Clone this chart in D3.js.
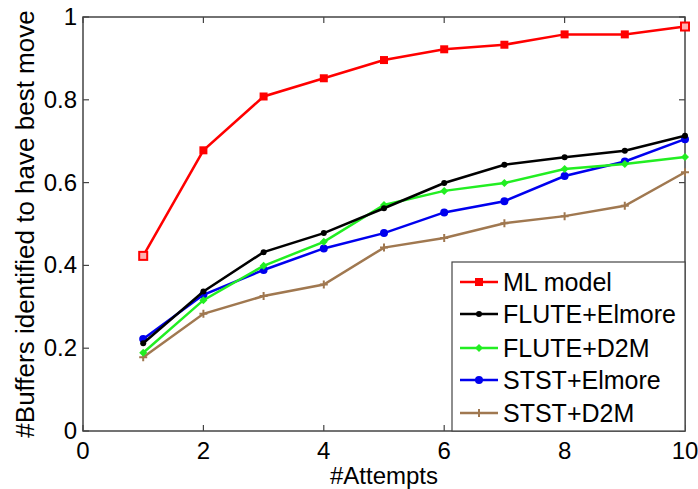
<!DOCTYPE html>
<html>
<head>
<meta charset="utf-8">
<script src="https://cdn.jsdelivr.net/npm/d3@7"></script>
<style>
  body { margin: 0; background: #fff; }
  svg { font-family: "Liberation Sans", Arial, sans-serif; }
</style>
</head>
<body>
<svg width="698" height="489"></svg>
<script>
// Data
const attempts = [1, 2, 3, 4, 5, 6, 7, 8, 9, 10];
const mlModel = [0.423, 0.678, 0.808, 0.852, 0.896, 0.922, 0.933, 0.958, 0.958, 0.977];
const fluteElmore = [0.212, 0.337, 0.432, 0.478, 0.538, 0.599, 0.643, 0.661, 0.677, 0.713];
const fluteD2M = [0.189, 0.316, 0.399, 0.457, 0.546, 0.580, 0.599, 0.633, 0.645, 0.662];
const ststElmore = [0.222, 0.329, 0.389, 0.441, 0.478, 0.528, 0.555, 0.616, 0.651, 0.705];
const ststD2M = [0.178, 0.283, 0.326, 0.354, 0.443, 0.466, 0.502, 0.519, 0.544, 0.625];
const xTicks = [0, 2, 4, 6, 8, 10];
const yTicks = [0, 0.2, 0.4, 0.6, 0.8, 1];

const seriesList = [
    {name: "ML model", values: mlModel, color: "#ff0000", marker: "square"},
    {name: "FLUTE+Elmore", values: fluteElmore, color: "#000000", marker: "dot"},
    {name: "FLUTE+D2M", values: fluteD2M, color: "#22ee22", marker: "diamond"},
    {name: "STST+Elmore", values: ststElmore, color: "#0000ee", marker: "circle"},
    {name: "STST+D2M", values: ststD2M, color: "#a07850", marker: "plus"}
];

const svg = d3.select("svg");
const plotLeft = 83, plotRight = 685, plotTop = 17, plotBottom = 431;

const x = d3.scaleLinear().domain([0, 10]).range([plotLeft, plotRight]);
const y = d3.scaleLinear().domain([0, 1]).range([plotBottom, plotTop]);

// Axis box
svg.append("rect")
    .attr("x", plotLeft).attr("y", plotTop)
    .attr("width", plotRight - plotLeft).attr("height", plotBottom - plotTop)
    .attr("fill", "none").attr("stroke", "#444").attr("stroke-width", 1.5);

// Ticks pointing inward, on all four sides
const tickLen = 6;
xTicks.forEach(t => {
    svg.append("line").attr("x1", x(t)).attr("x2", x(t))
        .attr("y1", plotBottom).attr("y2", plotBottom - tickLen)
        .attr("stroke", "#444").attr("stroke-width", 1.2);
    svg.append("line").attr("x1", x(t)).attr("x2", x(t))
        .attr("y1", plotTop).attr("y2", plotTop + tickLen)
        .attr("stroke", "#444").attr("stroke-width", 1.2);
    svg.append("text")
        .attr("x", x(t)).attr("y", plotBottom + 28)
        .attr("text-anchor", "middle")
        .attr("font-size", "24px")
        .text(t);
});
yTicks.forEach(t => {
    svg.append("line").attr("x1", plotLeft).attr("x2", plotLeft + tickLen)
        .attr("y1", y(t)).attr("y2", y(t))
        .attr("stroke", "#444").attr("stroke-width", 1.2);
    svg.append("line").attr("x1", plotRight).attr("x2", plotRight - tickLen)
        .attr("y1", y(t)).attr("y2", y(t))
        .attr("stroke", "#444").attr("stroke-width", 1.2);
    svg.append("text")
        .attr("x", plotLeft - 6).attr("y", y(t) + 8)
        .attr("text-anchor", "end")
        .attr("font-size", "24px")
        .text(t);
});

// Axis labels
svg.append("text")
    .attr("x", 384).attr("y", 484)
    .attr("text-anchor", "middle")
    .attr("font-size", "24px")
    .text("#Attempts");

svg.append("text")
    .attr("transform", "rotate(-90)")
    .attr("x", -224).attr("y", 34)
    .attr("text-anchor", "middle")
    .attr("font-size", "26px")
    .text("#Buffers identified to have best move");

// Marker drawing
function drawMarker(g, type, cx, cy, color, hollow) {
    if (type === "square") {
        g.append("rect").attr("x", cx - 4).attr("y", cy - 4)
            .attr("width", 8).attr("height", 8)
            .attr("fill", hollow ? "#ffb0b0" : color)
            .attr("stroke", color).attr("stroke-width", hollow ? 2 : 0);
    } else if (type === "dot") {
        g.append("circle").attr("cx", cx).attr("cy", cy).attr("r", 3).attr("fill", color);
    } else if (type === "circle") {
        g.append("circle").attr("cx", cx).attr("cy", cy).attr("r", 4).attr("fill", color);
    } else if (type === "diamond") {
        g.append("path")
            .attr("d", `M${cx},${cy - 4}L${cx + 4},${cy}L${cx},${cy + 4}L${cx - 4},${cy}Z`)
            .attr("fill", color);
    } else if (type === "plus") {
        g.append("path")
            .attr("d", `M${cx - 4},${cy}H${cx + 4}M${cx},${cy - 4}V${cy + 4}`)
            .attr("stroke", color).attr("stroke-width", 2);
    }
}

const line = d3.line()
    .x((d, i) => x(attempts[i]))
    .y(d => y(d));

// Draw in reverse so the ML model ends on top
seriesList.slice().reverse().forEach(s => {
    const g = svg.append("g");
    g.append("path")
        .attr("d", line(s.values))
        .attr("fill", "none")
        .attr("stroke", s.color)
        .attr("stroke-width", 2.5);
    const last = s.values.length - 1;
    s.values.forEach((v, i) =>
        drawMarker(g, s.marker, x(attempts[i]), y(v), s.color, i === 0 || i === last));
});

// Legend
const legLeft = 452, legTop = 262;
svg.append("rect")
    .attr("x", legLeft).attr("y", legTop)
    .attr("width", plotRight - legLeft).attr("height", plotBottom - legTop)
    .attr("fill", "#fff").attr("stroke", "#444").attr("stroke-width", 1.2);

const rowY = [282, 314, 348, 380, 413];
seriesList.forEach((s, i) => {
    const g = svg.append("g");
    g.append("line")
        .attr("x1", 460).attr("x2", 498)
        .attr("y1", rowY[i]).attr("y2", rowY[i])
        .attr("stroke", s.color).attr("stroke-width", 2.5);
    drawMarker(g, s.marker, 479, rowY[i], s.color, false);
    g.append("text")
        .attr("x", 503).attr("y", rowY[i] + 9)
        .attr("font-size", "25px")
        .text(s.name);
});
</script>
</body>
</html>
